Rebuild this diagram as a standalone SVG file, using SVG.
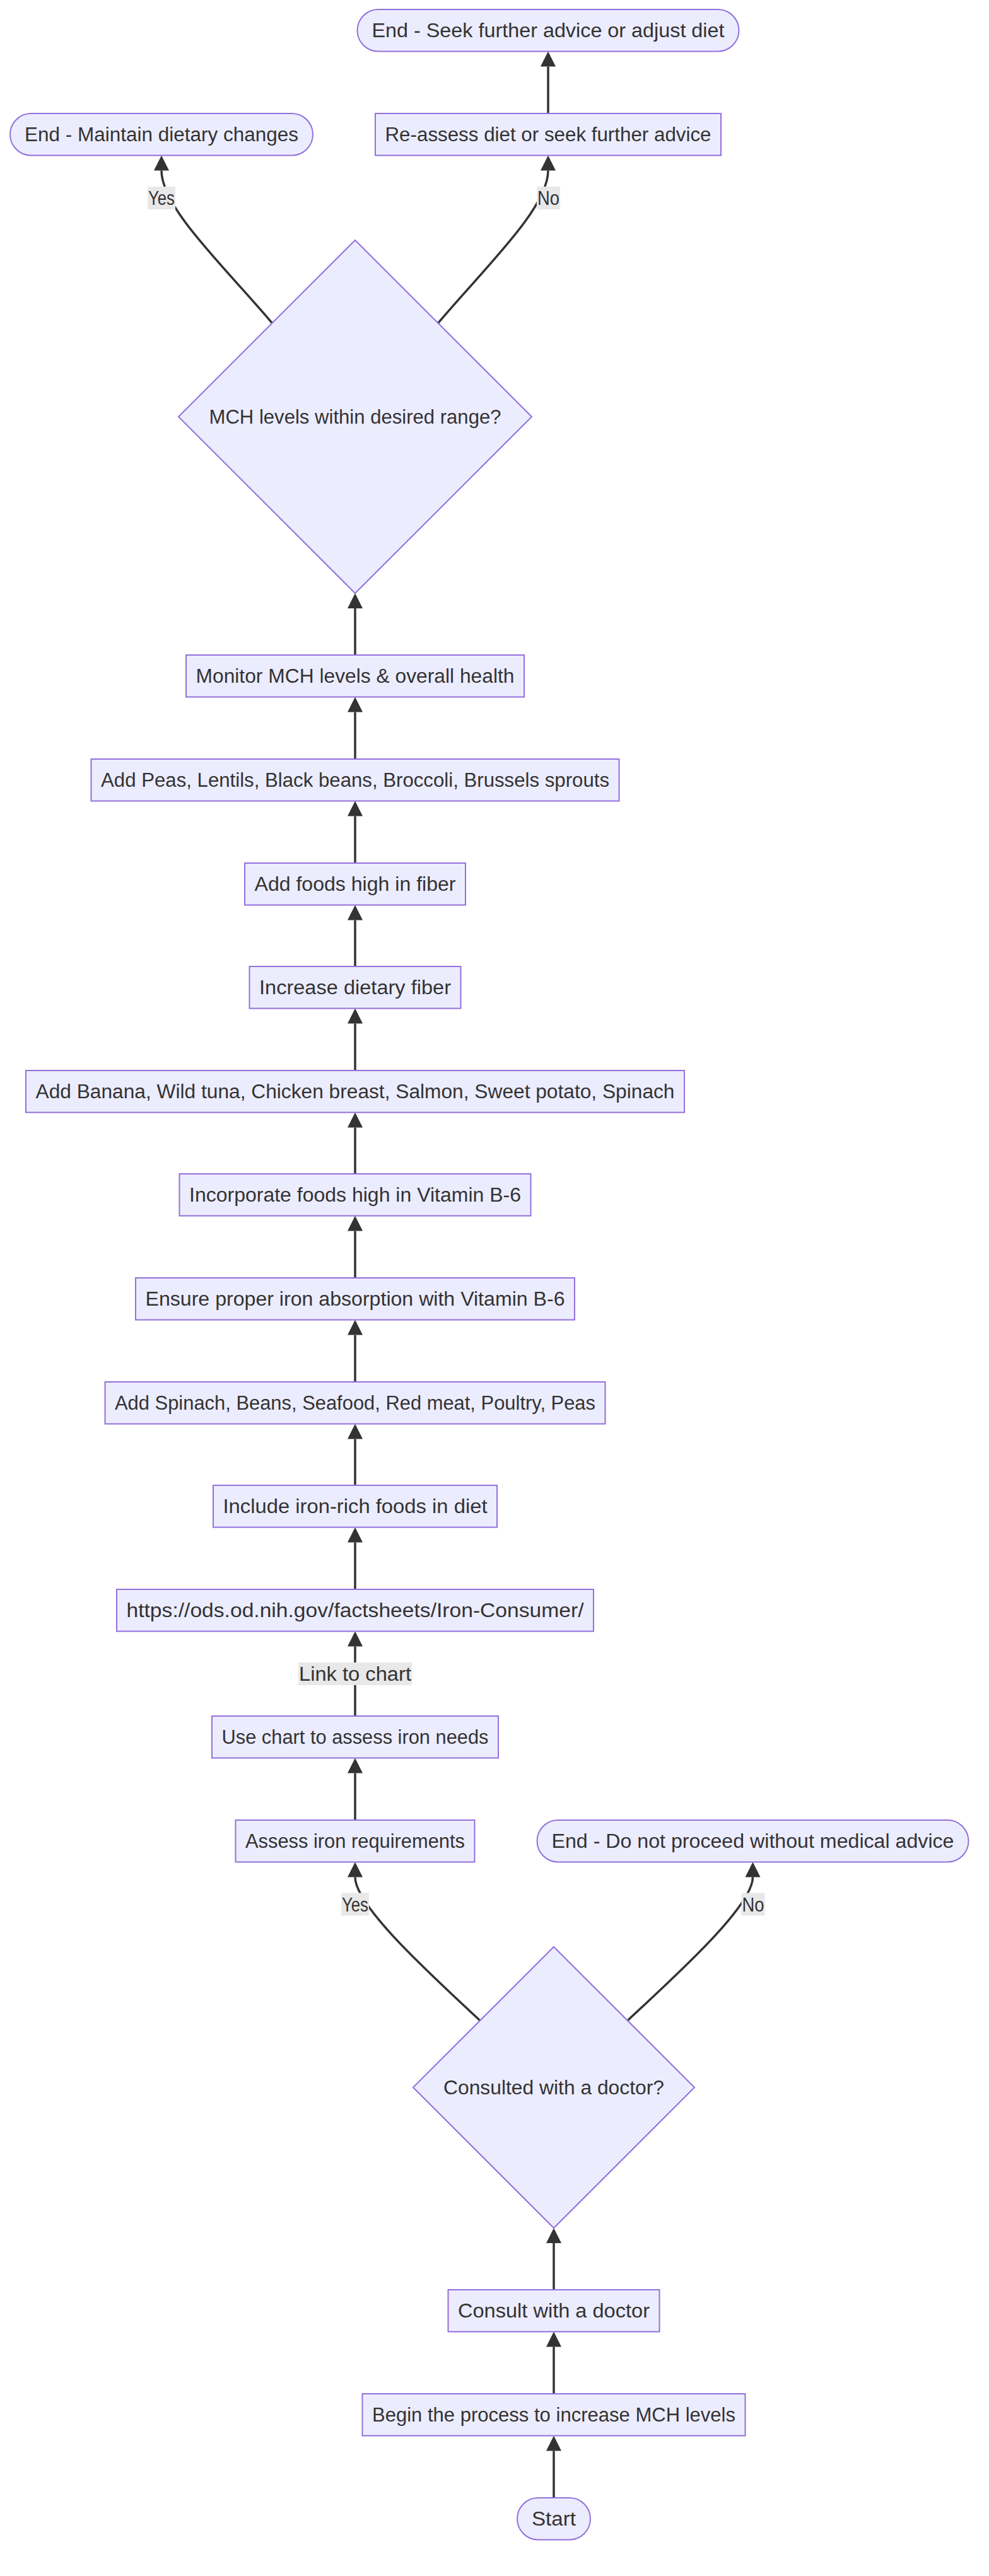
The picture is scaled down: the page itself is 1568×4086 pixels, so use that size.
<svg xmlns="http://www.w3.org/2000/svg" width="1568" height="4086" viewBox="0 0 1568 4086">
  <style>
    .node rect, .node polygon { fill: #ECECFF; stroke: #9370DB; stroke-width: 2; }
    .node text, .edgeLabel text { font-family: "Liberation Sans", Arial, sans-serif; font-size: 31px; fill: #333333; text-anchor: middle; }
    .edge { fill: none; stroke: #333333; stroke-width: 3.5; marker-end: url(#arrow); }
    .edgeLabel rect { fill: #e8e8e8; stroke: none; }
  </style>
  <defs>
    <marker id="arrow" viewBox="0 0 24 24" refX="0" refY="12" markerWidth="24" markerHeight="24" markerUnits="userSpaceOnUse" orient="auto">
      <path d="M0,0 L24,12 L0,24 z" fill="#333333"/>
    </marker>
  </defs>
  <rect width="1568" height="4086" fill="#ffffff"/>

  <!-- connectors -->
  <g id="connectors">
    <path class="edge" d="M878,3962 L878,3887.5"/>
    <path class="edge" d="M878,3797 L878,3722.5"/>
    <path class="edge" d="M878,3632 L878,3558"/>
    <path class="edge" d="M761,3205 C691,3139 563,3025 563,2977.5"/>
    <path class="edge" d="M995,3205 C1065,3139 1193.5,3025 1193.5,2977.5"/>
    <path class="edge" d="M563,2887 L563,2812.5"/>
    <path class="edge" d="M563,2722 L563,2611.5"/>
    <path class="edge" d="M563,2521 L563,2446.5"/>
    <path class="edge" d="M563,2356 L563,2282.5"/>
    <path class="edge" d="M563,2192 L563,2117.5"/>
    <path class="edge" d="M563,2027 L563,1952.5"/>
    <path class="edge" d="M563,1862 L563,1788.5"/>
    <path class="edge" d="M563,1698 L563,1623.5"/>
    <path class="edge" d="M563,1533 L563,1459.5"/>
    <path class="edge" d="M563,1369 L563,1294.5"/>
    <path class="edge" d="M563,1204 L563,1129.5"/>
    <path class="edge" d="M563,1039 L563,965"/>
    <path class="edge" d="M431,512 C355,422 256,330 256,270.5"/>
    <path class="edge" d="M695,512 C771,422 869,330 869,270.5"/>
    <path class="edge" d="M869,180 L869,105.5"/>

    <g class="edgeLabel">
      <rect x="234" y="296" width="44" height="36"/>
      <text x="256" y="325" textLength="42" lengthAdjust="spacingAndGlyphs">Yes</text>
    </g>
    <g class="edgeLabel">
      <rect x="851" y="296" width="37" height="36"/>
      <text x="869.5" y="325" textLength="35" lengthAdjust="spacingAndGlyphs">No</text>
    </g>
    <g class="edgeLabel">
      <rect x="473" y="2637" width="180" height="36"/>
      <text x="563" y="2666" textLength="178" lengthAdjust="spacingAndGlyphs">Link to chart</text>
    </g>
    <g class="edgeLabel">
      <rect x="541" y="3002.5" width="44" height="36"/>
      <text x="563" y="3031.5" textLength="42" lengthAdjust="spacingAndGlyphs">Yes</text>
    </g>
    <g class="edgeLabel">
      <rect x="1175.5" y="3002.5" width="37" height="36"/>
      <text x="1194" y="3031.5" textLength="35" lengthAdjust="spacingAndGlyphs">No</text>
    </g>
  </g>

  <!-- nodes -->
  <g id="endSeek" class="node">
    <rect x="566.5" y="15" width="605" height="66.5" rx="33.25" ry="33.25"/>
    <text x="869" y="59.25" textLength="559" lengthAdjust="spacingAndGlyphs">End - Seek further advice or adjust diet</text>
  </g>
  <g id="endMaintain" class="node">
    <rect x="16" y="180" width="480" height="66.5" rx="33.25" ry="33.25"/>
    <text x="256" y="224.25" textLength="434" lengthAdjust="spacingAndGlyphs">End - Maintain dietary changes</text>
  </g>
  <g id="reassess" class="node">
    <rect x="595" y="180" width="548" height="66.5"/>
    <text x="869" y="224.25" textLength="517" lengthAdjust="spacingAndGlyphs">Re-assess diet or seek further advice</text>
  </g>
  <g id="checkMCH" class="node">
    <polygon points="563,381 843,661 563,941 283,661"/>
    <text x="563" y="672" textLength="463" lengthAdjust="spacingAndGlyphs">MCH levels within desired range?</text>
  </g>
  <g id="monitor" class="node">
    <rect x="295" y="1039" width="536" height="66.5"/>
    <text x="563" y="1083.25" textLength="505" lengthAdjust="spacingAndGlyphs">Monitor MCH levels &amp; overall health</text>
  </g>
  <g id="addPeas" class="node">
    <rect x="144.5" y="1204" width="837" height="66.5"/>
    <text x="563" y="1248.25" textLength="806" lengthAdjust="spacingAndGlyphs">Add Peas, Lentils, Black beans, Broccoli, Brussels sprouts</text>
  </g>
  <g id="addFiber" class="node">
    <rect x="388" y="1369" width="350" height="66.5"/>
    <text x="563" y="1413.25" textLength="319" lengthAdjust="spacingAndGlyphs">Add foods high in fiber</text>
  </g>
  <g id="increaseFiber" class="node">
    <rect x="395.5" y="1533" width="335" height="66.5"/>
    <text x="563" y="1577.25" textLength="304" lengthAdjust="spacingAndGlyphs">Increase dietary fiber</text>
  </g>
  <g id="addBanana" class="node">
    <rect x="41" y="1698" width="1044" height="66.5"/>
    <text x="563" y="1742.25" textLength="1013" lengthAdjust="spacingAndGlyphs">Add Banana, Wild tuna, Chicken breast, Salmon, Sweet potato, Spinach</text>
  </g>
  <g id="incorporateB6" class="node">
    <rect x="284.5" y="1862" width="557" height="66.5"/>
    <text x="563" y="1906.25" textLength="526" lengthAdjust="spacingAndGlyphs">Incorporate foods high in Vitamin B-6</text>
  </g>
  <g id="ensureAbsorption" class="node">
    <rect x="215" y="2027" width="696" height="66.5"/>
    <text x="563" y="2071.25" textLength="665" lengthAdjust="spacingAndGlyphs">Ensure proper iron absorption with Vitamin B-6</text>
  </g>
  <g id="addSpinach" class="node">
    <rect x="166.5" y="2192" width="793" height="66.5"/>
    <text x="563" y="2236.25" textLength="762" lengthAdjust="spacingAndGlyphs">Add Spinach, Beans, Seafood, Red meat, Poultry, Peas</text>
  </g>
  <g id="includeIron" class="node">
    <rect x="338" y="2356" width="450" height="66.5"/>
    <text x="563" y="2400.25" textLength="419" lengthAdjust="spacingAndGlyphs">Include iron-rich foods in diet</text>
  </g>
  <g id="chartLink" class="node">
    <rect x="185" y="2521" width="756" height="66.5"/>
    <text x="563" y="2565.25" textLength="725" lengthAdjust="spacingAndGlyphs">https://ods.od.nih.gov/factsheets/Iron-Consumer/</text>
  </g>
  <g id="useChart" class="node">
    <rect x="336" y="2722" width="454" height="66.5"/>
    <text x="563" y="2766.25" textLength="423" lengthAdjust="spacingAndGlyphs">Use chart to assess iron needs</text>
  </g>
  <g id="assessIron" class="node">
    <rect x="373.5" y="2887" width="379" height="66.5"/>
    <text x="563" y="2931.25" textLength="348" lengthAdjust="spacingAndGlyphs">Assess iron requirements</text>
  </g>
  <g id="endNoAdvice" class="node">
    <rect x="851.5" y="2887" width="684" height="66.5" rx="33.25" ry="33.25"/>
    <text x="1193.5" y="2931.25" textLength="638" lengthAdjust="spacingAndGlyphs">End - Do not proceed without medical advice</text>
  </g>
  <g id="consulted" class="node">
    <polygon points="878,3088 1101,3311 878,3534 655,3311"/>
    <text x="878" y="3322" textLength="350" lengthAdjust="spacingAndGlyphs">Consulted with a doctor?</text>
  </g>
  <g id="consult" class="node">
    <rect x="710.5" y="3632" width="335" height="66.5"/>
    <text x="878" y="3676.25" textLength="304" lengthAdjust="spacingAndGlyphs">Consult with a doctor</text>
  </g>
  <g id="begin" class="node">
    <rect x="574.5" y="3797" width="607" height="66.5"/>
    <text x="878" y="3841.25" textLength="576" lengthAdjust="spacingAndGlyphs">Begin the process to increase MCH levels</text>
  </g>
  <g id="start" class="node">
    <rect x="820" y="3962" width="116" height="66.5" rx="33.25" ry="33.25"/>
    <text x="878" y="4006.25" textLength="70" lengthAdjust="spacingAndGlyphs">Start</text>
  </g>
</svg>
